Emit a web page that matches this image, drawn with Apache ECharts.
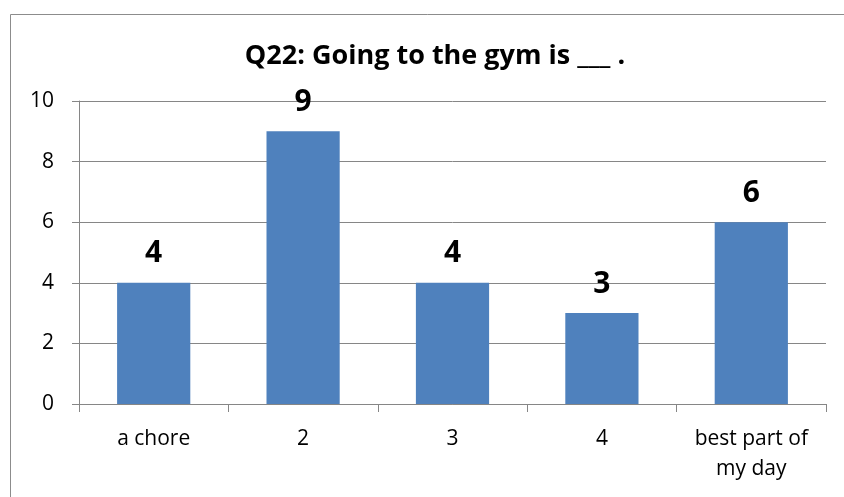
<!DOCTYPE html>
<html><head><meta charset="utf-8">
<script src="https://cdn.jsdelivr.net/npm/echarts@6/dist/echarts.min.js"></script>
<style>html,body{margin:0;padding:0;background:#fff}#c{width:844px;height:497px}</style>
</head><body><div id="c"></div>
<script>
const categories = ['a chore', '2', '3', '4', 'best part of\nmy day'];
const values = [4, 9, 4, 3, 6];
const yTicks = [0, 2, 4, 6, 8, 10];
const titleText = 'Q22: Going to the gym is ___ .';
const FONT = "'Open Sans', 'Liberation Sans', sans-serif";
const chart = echarts.init(document.getElementById('c'), null, {renderer: 'canvas'});
chart.setOption({
  animation: false,
  backgroundColor: '#fff',
  graphic: [{type: 'rect', shape: {x: 10.5, y: 14.5, width: 850, height: 500}, style: {fill: 'none', stroke: '#8c8c8c', lineWidth: 1}, silent: true}],
  title: {text: titleText, left: 430, top: 38, textAlign: 'center',
    textStyle: {fontFamily: FONT, fontWeight: 'bold', fontSize: 27, color: '#000'}},
  grid: {left: 79, right: 18, top: 101, bottom: 93},
  xAxis: {type: 'category', data: categories,
    axisLine: {lineStyle: {color: '#868686'}},
    axisTick: {show: true, interval: 0, length: 8, lineStyle: {color: '#868686'}},
    axisLabel: {interval: 0, hideOverlap: false, color: '#000', fontFamily: FONT, fontSize: 21, margin: 20, lineHeight: 30}},
  yAxis: {type: 'value', min: yTicks[0], max: yTicks[yTicks.length - 1], interval: 2,
    axisLine: {show: true, lineStyle: {color: '#868686'}},
    axisTick: {show: true, length: 7, lineStyle: {color: '#868686'}},
    splitLine: {lineStyle: {color: '#868686'}},
    axisLabel: {color: '#000', fontFamily: FONT, fontSize: 21, margin: 25}},
  series: [{type: 'bar', data: values, barWidth: '49%',
    itemStyle: {color: '#4F81BD'},
    label: {show: true, position: 'top', distance: 14, color: '#000', fontFamily: FONT, fontWeight: 'bold', fontSize: 30}}]
});
</script></body></html>
